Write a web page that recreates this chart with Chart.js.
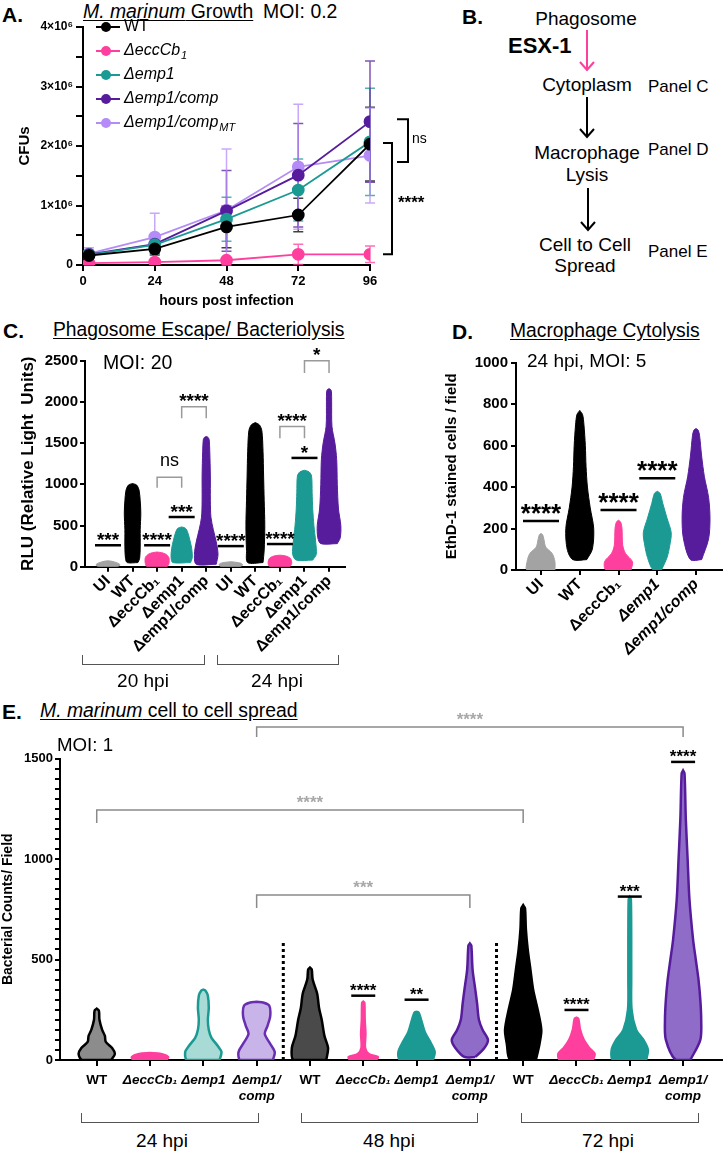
<!DOCTYPE html>
<html>
<head>
<meta charset="utf-8">
<script src="https://cdn.jsdelivr.net/npm/chart.js@4"></script>
<style>
  body { margin: 0; background: #fff; font-family: 'Liberation Sans', Arial, sans-serif; }
  #page { position: relative; width: 725px; height: 1153px; overflow: hidden; background: #fff; }
  .t { position: absolute; white-space: nowrap; line-height: 1; color: #000; }
  .c { transform: translateX(-50%); }
  .u { text-decoration: underline; text-underline-offset: 2px; }
  .big { font-weight: bold; font-size: 21px; }
  canvas { position: absolute; }
  .brk { position: absolute; border: 1.5px solid #555; border-top: none; height: 9px; }
</style>
</head>
<body>
<div id="page">
  <!-- panel titles -->
  <div class="t big" style="left:2px;top:4px;">A.</div>
  <div class="t u" style="left:83px;top:2px;font-size:19.4px;"><i>M. marinum</i> Growth</div>
  <div class="t" style="left:263px;top:2px;font-size:19.4px;">MOI: 0.2</div>
  <canvas id="chartA" width="450" height="312" style="left:0;top:0;"></canvas>

  <div class="t big" style="left:462px;top:6px;">B.</div>
  <div class="t c" style="left:586px;top:9px;font-size:19px;">Phagosome</div>
  <div class="t" style="left:508px;top:35px;font-size:22px;font-weight:bold;">ESX-1</div>
  <div class="t c" style="left:587px;top:75px;font-size:19px;">Cytoplasm</div>
  <div class="t" style="left:648px;top:78px;font-size:17px;">Panel C</div>
  <div class="t c" style="left:587px;top:143px;font-size:19px;">Macrophage</div>
  <div class="t c" style="left:587px;top:165px;font-size:19px;">Lysis</div>
  <div class="t" style="left:648px;top:141px;font-size:17px;">Panel D</div>
  <div class="t c" style="left:585px;top:235px;font-size:19px;">Cell to Cell</div>
  <div class="t c" style="left:585px;top:256px;font-size:19px;">Spread</div>
  <div class="t" style="left:648px;top:243px;font-size:17px;">Panel E</div>
  <svg style="position:absolute;left:0;top:0;" width="725" height="300">
    <g fill="none" stroke-width="2">
      <path d="M587 30 V70 M580 62 L587 70 L594 62" stroke="#ff3f9e"/>
      <path d="M587 97 V137 M580 129 L587 137 L594 129" stroke="#000"/>
      <path d="M588 188 V230 M581 222 L588 230 L595 222" stroke="#000"/>
    </g>
  </svg>

  <div class="t big" style="left:3px;top:320px;">C.</div>
  <div class="t u" style="left:53px;top:320px;font-size:19.3px;">Phagosome Escape/ Bacteriolysis</div>
  <canvas id="chartC" width="360" height="330" style="left:0;top:340px;"></canvas>
  <div class="t" style="left:103px;top:353px;font-size:19.5px;">MOI: 20</div>
  <div class="brk" style="left:82px;top:655px;width:121px;"></div>
  <div class="brk" style="left:217px;top:655px;width:120px;"></div>
  <div class="t c" style="left:143px;top:671px;font-size:19px;">20 hpi</div>
  <div class="t c" style="left:277px;top:671px;font-size:19px;">24 hpi</div>

  <div class="t big" style="left:452px;top:321px;">D.</div>
  <div class="t u" style="left:510px;top:321px;font-size:19.3px;">Macrophage Cytolysis</div>
  <canvas id="chartD" width="345" height="330" style="left:380px;top:340px;"></canvas>
  <div class="t" style="left:527px;top:351px;font-size:19px;">24 hpi, MOI: 5</div>

  <div class="t big" style="left:2px;top:701px;">E.</div>
  <div class="t u" style="left:40px;top:701px;font-size:19.4px;"><i>M. marinum</i> cell to cell spread</div>
  <canvas id="chartE" width="725" height="410" style="left:0;top:700px;"></canvas>
  <div class="t" style="left:57px;top:736px;font-size:18.7px;">MOI: 1</div>
  <div class="brk" style="left:81px;top:1113px;width:176px;"></div>
  <div class="brk" style="left:301px;top:1113px;width:175px;"></div>
  <div class="brk" style="left:521px;top:1113px;width:176px;"></div>
  <div class="t c" style="left:162px;top:1131px;font-size:19px;">24 hpi</div>
  <div class="t c" style="left:389px;top:1131px;font-size:19px;">48 hpi</div>
  <div class="t c" style="left:608px;top:1131px;font-size:19px;">72 hpi</div>
</div>

<script>
// ---------- Panel A: growth curves (CFUs) ----------
const growthHours = [2, 24, 48, 72, 96];
const growthNames = ['WT', 'ΔeccCb', 'Δemp1', 'Δemp1/comp', 'Δemp1/comp'];
const growthSubs = ['', '1', '', '', 'MT'];
const growthWT = [160000, 270000, 640000, 840000, 2030000];
const growthEcc = [30000, 50000, 80000, 180000, 180000];
const growthEmp1 = [170000, 340000, 770000, 1260000, 2070000];
const growthComp = [180000, 350000, 910000, 1510000, 2410000];
const growthCompMT = [190000, 470000, 920000, 1650000, 1840000];
const sdWT = [50000, 100000, 350000, 280000, 620000];
const sdEcc = [30000, 30000, 40000, 170000, 140000];
const sdEmp1 = [50000, 150000, 370000, 520000, 900000];
const sdComp = [50000, 150000, 680000, 870000, 1020000];
const sdCompMT = [100000, 400000, 1030000, 1050000, 800000];
const growthStats = [
  { top: 2450000, bottom: 1730000, text: 'ns' },
  { top: 2050000, bottom: 180000, text: '****' }
];

// ---------- Panel C: phagosome escape (RLU) ----------
const escapePos = [1, 2, 3, 4, 5, 6, 7, 8, 9, 10];
const escapeLabels = ['UI', 'WT', 'ΔeccCb₁', 'Δemp1', 'Δemp1/comp', 'UI', 'WT', 'ΔeccCb₁', 'Δemp1', 'Δemp1/comp'];
const escapeStrain = ['ui', 'wt', 'ecc', 'emp1', 'comp', 'ui', 'wt', 'ecc', 'emp1', 'comp'];
// each profile: [value, relative density]
const escapeProfiles = [
  [[0, 0.75], [15, 1], [35, 0.95], [55, 0.6], [68, 0.25], [72, 0]],
  [[50, 0.45], [100, 0.6], [250, 0.65], [450, 0.65], [650, 0.7], [800, 0.65], [930, 0.55], [990, 0.35], [1010, 0]],
  [[0, 0.85], [40, 1], [110, 1], [150, 0.75], [170, 0.4], [178, 0]],
  [[50, 0.75], [110, 0.9], [220, 0.85], [320, 0.7], [400, 0.55], [455, 0.4], [475, 0.2], [482, 0]],
  [[30, 0.85], [150, 1], [300, 0.85], [450, 0.6], [600, 0.4], [800, 0.35], [1100, 0.35], [1400, 0.3], [1540, 0.25], [1570, 0.15], [1580, 0]],
  [[0, 0.8], [20, 1], [40, 0.9], [55, 0.4], [60, 0]],
  [[50, 0.65], [200, 0.75], [500, 0.8], [800, 0.75], [1100, 0.7], [1400, 0.65], [1650, 0.55], [1720, 0.35], [1750, 0]],
  [[0, 0.85], [40, 1], [100, 0.9], [130, 0.5], [140, 0]],
  [[80, 0.7], [150, 1], [300, 0.95], [500, 0.8], [700, 0.7], [900, 0.65], [1100, 0.6], [1150, 0.4], [1170, 0]],
  [[280, 0.7], [350, 0.95], [500, 1], [700, 0.8], [1000, 0.7], [1300, 0.65], [1500, 0.5], [1700, 0.25], [2000, 0.22], [2130, 0.2], [2155, 0.1], [2160, 0]]
];
const escapeBars = [
  { at: 1, value: 260, text: '***' },
  { at: 3, value: 260, text: '****' },
  { at: 4, value: 603, text: '***' },
  { at: 6, value: 250, text: '****' },
  { at: 8, value: 275, text: '****' },
  { at: 9, value: 1320, text: '*' }
];
const escapeBrackets = [
  { from: 3, to: 4, value: 1087, leg: 130, text: 'ns' },
  { from: 4, to: 5, value: 1942, leg: 140, text: '****' },
  { from: 8, to: 9, value: 1700, leg: 140, text: '****' },
  { from: 9, to: 10, value: 2500, leg: 150, text: '*' }
];

// ---------- Panel D: macrophage cytolysis (EthD-1 cells / field) ----------
const lysisPos = [1, 2, 3, 4, 5];
const lysisLabels = ['UI', 'WT', 'ΔeccCb₁', 'Δemp1', 'Δemp1/comp'];
const lysisStrain = ['ui', 'wt', 'ecc', 'emp1', 'comp'];
const lysisProfiles = [
  [[0, 1], [40, 1], [80, 0.8], [110, 0.35], [150, 0.2], [170, 0.12], [176, 0]],
  [[50, 0.5], [100, 0.9], [200, 1], [300, 0.75], [400, 0.55], [500, 0.45], [600, 0.4], [700, 0.3], [750, 0.2], [770, 0]],
  [[0, 0.9], [40, 1], [80, 0.5], [120, 0.3], [200, 0.25], [232, 0.15], [240, 0]],
  [[0, 0.3], [60, 0.7], [120, 0.9], [180, 1], [250, 0.7], [320, 0.4], [370, 0.2], [380, 0]],
  [[50, 0.4], [150, 0.9], [250, 1], [350, 0.9], [450, 0.6], [550, 0.4], [650, 0.25], [675, 0.15], [682, 0]]
];
const lysisBars = [
  { at: 1, value: 236, text: '****' },
  { at: 3, value: 289, text: '****' },
  { at: 4, value: 443, text: '****' }
];

// ---------- Panel E: cell to cell spread (bacterial counts / field) ----------
const spreadPos = [1, 2, 3, 4, 5, 6, 7, 8, 9, 10, 11, 12];
const spreadLabels = ['WT', 'ΔeccCb₁', 'Δemp1', ['Δemp1/', 'comp'], 'WT', 'ΔeccCb₁', 'Δemp1', ['Δemp1/', 'comp'], 'WT', 'ΔeccCb₁', 'Δemp1', ['Δemp1/', 'comp']];
const spreadStrain = ['wt24', 'ecc', 'emp1_24', 'comp24', 'wt48', 'ecc', 'emp1', 'comp48', 'wt', 'ecc', 'emp1', 'comp48'];
const spreadProfiles = [
  [[0, 0.8], [30, 1], [60, 0.85], [90, 0.5], [120, 0.45], [150, 0.3], [200, 0.15], [245, 0.12], [255, 0]],
  [[0, 0.9], [15, 1], [30, 0.6], [35, 0]],
  [[0, 0.9], [40, 1], [70, 0.8], [110, 0.45], [150, 0.3], [200, 0.25], [260, 0.3], [320, 0.25], [345, 0.12], [350, 0]],
  [[0, 0.9], [40, 1], [80, 0.75], [130, 0.45], [170, 0.6], [220, 0.75], [270, 0.7], [285, 0.4], [290, 0]],
  [[0, 0.9], [60, 1], [120, 0.8], [200, 0.65], [260, 0.5], [330, 0.4], [400, 0.15], [450, 0.1], [460, 0]],
  [[0, 0.7], [15, 0.8], [30, 0.3], [60, 0.1], [130, 0.12], [200, 0.08], [285, 0.06], [290, 0]],
  [[0, 0.9], [40, 1], [90, 0.75], [140, 0.45], [200, 0.25], [235, 0.12], [240, 0]],
  [[15, 0.3], [60, 0.8], [100, 1], [150, 0.7], [200, 0.5], [280, 0.4], [350, 0.3], [450, 0.15], [570, 0.08], [580, 0]],
  [[0, 0.7], [80, 0.9], [150, 1], [250, 0.8], [350, 0.55], [450, 0.4], [550, 0.25], [650, 0.15], [755, 0.1], [770, 0]],
  [[0, 0.9], [30, 1], [60, 0.7], [100, 0.4], [150, 0.2], [205, 0.1], [210, 0]],
  [[0, 0.9], [50, 1], [100, 0.75], [150, 0.35], [250, 0.1], [400, 0.08], [600, 0.08], [800, 0.06], [810, 0]],
  [[0, 0.4], [100, 0.95], [200, 1], [300, 0.95], [400, 0.85], [500, 0.7], [600, 0.55], [800, 0.35], [1000, 0.25], [1200, 0.15], [1425, 0.08], [1440, 0]]
];
const spreadDividers = [4.5, 8.5];
const spreadDividerTop = 590;
const spreadBars = [
  { at: 6, value: 320, text: '****' },
  { at: 7, value: 300, text: '**' },
  { at: 10, value: 249, text: '****' },
  { at: 11, value: 813, text: '***' },
  { at: 12, value: 1483, text: '****' }
];
const spreadBrackets = [
  { from: 4, to: 12, value: 1657, leg: 50, text: '****' },
  { from: 1, to: 9, value: 1244, leg: 65, text: '****' },
  { from: 4, to: 8, value: 821, leg: 65, text: '***' }
];

// ---------- styles ----------
const FONT = "'Liberation Sans', Arial, sans-serif";
Chart.defaults.font.family = FONT;
Chart.defaults.color = '#000';

const palette = {
  ui: { fill: '#a3a3a3', line: '#a3a3a3' },
  wt: { fill: '#000000', line: '#000000' },
  ecc: { fill: '#ff3f9e', line: '#ff3f9e' },
  emp1: { fill: '#1b9a94', line: '#1b9a94' },
  comp: { fill: '#561c9c', line: '#561c9c' },
  wt24: { fill: '#8c8c8c', line: '#000000' },
  wt48: { fill: '#4a4a4a', line: '#000000' },
  emp1_24: { fill: '#a8dad6', line: '#1b9a94' },
  comp24: { fill: '#c9b4ea', line: '#6a2fb0' },
  comp48: { fill: '#8e6cc8', line: '#561c9c' }
};
const growthColors = ['#000000', '#ff3f9e', '#1b9a94', '#561c9c', '#b58cf7'];

function violin(pos, profile, half, style, lineWidth) {
  const right = profile.map(p => ({ x: pos + p[1] * half, y: p[0] }));
  const left = profile.slice().reverse().map(p => ({ x: pos - p[1] * half, y: p[0] }));
  const pts = right.concat(left);
  pts.push(pts[0]);
  return {
    data: pts, showLine: true, fill: 'shape', tension: 0.3,
    backgroundColor: style.fill, borderColor: style.line, borderWidth: lineWidth,
    pointRadius: 0, pointHoverRadius: 0
  };
}

function axisStyle(extra, tickLength) {
  return Object.assign({
    grid: { drawOnChartArea: false, color: '#000', lineWidth: 2, tickLength: tickLength || 5 },
    border: { color: '#000', width: 2 }
  }, extra);
}

// significance bars, brackets and divider lines, placed through the scales
const sigPlugin = {
  id: 'sig',
  afterDatasetsDraw(chart, args, opts) {
    const ctx = chart.ctx, xs = chart.scales.x, ys = chart.scales.y;
    if (!opts.bars && !opts.brackets && !opts.dividers) return;
    ctx.save();
    (opts.dividers || []).forEach(d => {
      const x = xs.getPixelForValue(d);
      ctx.strokeStyle = '#000'; ctx.lineWidth = 3; ctx.setLineDash([3, 3]);
      ctx.beginPath(); ctx.moveTo(x, ys.getPixelForValue(0)); ctx.lineTo(x, ys.getPixelForValue(opts.dividerTop)); ctx.stroke();
    });
    ctx.setLineDash([]);
    ctx.textAlign = 'center'; ctx.textBaseline = 'alphabetic';
    (opts.bars || []).forEach(b => {
      const cx = xs.getPixelForValue(b.at), y = ys.getPixelForValue(b.value);
      ctx.strokeStyle = '#000'; ctx.lineWidth = 2.5;
      ctx.beginPath(); ctx.moveTo(cx - opts.barHalf, y); ctx.lineTo(cx + opts.barHalf, y); ctx.stroke();
      ctx.fillStyle = '#000'; ctx.font = opts.starFont;
      ctx.fillText(b.text, cx, y + opts.starShift);
    });
    (opts.brackets || []).forEach(b => {
      const x1 = xs.getPixelForValue(b.from), x2 = xs.getPixelForValue(b.to);
      const yTop = ys.getPixelForValue(b.value), yLeg = ys.getPixelForValue(b.value - b.leg);
      ctx.strokeStyle = opts.bracketColor; ctx.lineWidth = 1.5;
      ctx.beginPath(); ctx.moveTo(x1, yLeg); ctx.lineTo(x1, yTop); ctx.lineTo(x2, yTop); ctx.lineTo(x2, yLeg); ctx.stroke();
      ctx.fillStyle = opts.bracketTextColor;
      if (b.text.indexOf('*') >= 0) {
        ctx.font = opts.bracketStarFont;
        ctx.fillText(b.text, (x1 + x2) / 2, yTop - opts.bracketStarLift);
      } else {
        ctx.font = opts.bracketTextFont;
        ctx.fillText(b.text, (x1 + x2) / 2, yTop - 11);
      }
    });
    ctx.restore();
  }
};
Chart.register(sigPlugin);

// ---------- Panel A ----------
const growthValues = [growthWT, growthEcc, growthEmp1, growthComp, growthCompMT];
const growthSd = [sdWT, sdEcc, sdEmp1, sdComp, sdCompMT];

const growthExtras = {
  id: 'growthExtras',
  beforeDatasetsDraw(chart) {
    const ctx = chart.ctx, xs = chart.scales.x, ys = chart.scales.y;
    ctx.save();
    ctx.globalAlpha = 0.75;
    ctx.lineWidth = 1.5;
    growthValues.forEach((vals, i) => {
      ctx.strokeStyle = growthColors[i];
      vals.forEach((v, j) => {
        const x = xs.getPixelForValue(growthHours[j]);
        const y1 = ys.getPixelForValue(v + growthSd[i][j]);
        const y0 = ys.getPixelForValue(Math.max(0, v - growthSd[i][j]));
        ctx.beginPath();
        ctx.moveTo(x, y0); ctx.lineTo(x, y1);
        ctx.moveTo(x - 5, y1); ctx.lineTo(x + 5, y1);
        ctx.moveTo(x - 5, y0); ctx.lineTo(x + 5, y0);
        ctx.stroke();
      });
    });
    ctx.restore();
  },
  afterDraw(chart) {
    const ctx = chart.ctx, area = chart.chartArea, ys = chart.scales.y;
    ctx.save();
    // legend
    growthNames.forEach((name, i) => {
      const y = area.top + i * 24;
      ctx.strokeStyle = growthColors[i]; ctx.fillStyle = growthColors[i]; ctx.lineWidth = 2;
      ctx.beginPath(); ctx.moveTo(area.left + 13, y); ctx.lineTo(area.left + 37, y); ctx.stroke();
      ctx.beginPath(); ctx.arc(area.left + 23, y, 5, 0, Math.PI * 2); ctx.fill();
      ctx.fillStyle = '#000';
      ctx.textBaseline = 'middle'; ctx.textAlign = 'left';
      ctx.font = (i === 0 ? '' : 'italic ') + '16px ' + FONT;
      ctx.fillText(name, area.left + 41, y);
      if (growthSubs[i]) {
        const w = ctx.measureText(name).width;
        ctx.font = 'italic 11px ' + FONT;
        ctx.fillText(growthSubs[i], area.left + 41 + w + 1, y + 5);
      }
    });
    // significance brackets to the right of the last time point
    ctx.strokeStyle = '#000'; ctx.fillStyle = '#000'; ctx.lineWidth = 2;
    const offsets = [{ x: 38, stub: 11 }, { x: 22, stub: 9 }];
    growthStats.forEach((s, i) => {
      const xv = area.right + offsets[i].x;
      const yt = ys.getPixelForValue(s.top), yb = ys.getPixelForValue(s.bottom);
      ctx.beginPath();
      ctx.moveTo(xv - offsets[i].stub, yt); ctx.lineTo(xv, yt); ctx.lineTo(xv, yb); ctx.lineTo(xv - offsets[i].stub, yb);
      ctx.stroke();
      ctx.textAlign = 'left';
      if (s.text === 'ns') {
        ctx.font = '14px ' + FONT; ctx.textBaseline = 'middle';
        ctx.fillText(s.text, xv + 4, (yt + yb) / 2 - 2);
      } else {
        ctx.font = 'bold 17px ' + FONT; ctx.textBaseline = 'alphabetic';
        ctx.fillText(s.text, xv + 6, (yt + yb) / 2 + 9);
      }
    });
    ctx.restore();
  }
};

new Chart(document.getElementById('chartA'), {
  type: 'line',
  data: {
    datasets: growthValues.map((vals, i) => ({
      label: growthNames[i] + growthSubs[i],
      data: vals.map((v, j) => ({ x: growthHours[j], y: v })),
      borderColor: growthColors[i], backgroundColor: growthColors[i],
      borderWidth: 1.8, pointRadius: 5.5, pointHoverRadius: 5.5, tension: 0
    }))
  },
  options: {
    responsive: false, animation: false,
    layout: { padding: { top: 27, right: 80, left: 0 } },
    plugins: { legend: { display: false }, tooltip: { enabled: false } },
    scales: {
      x: axisStyle({
        type: 'linear', min: 0, max: 96,
        afterBuildTicks: a => { a.ticks = [0, 24, 48, 72, 96].map(v => ({ value: v })); },
        afterFit: a => { a.height = 47; },
        ticks: { font: { weight: 'bold', size: 13 }, padding: 3, maxRotation: 0, autoSkip: false },
        title: { display: true, text: 'hours post infection', font: { weight: 'bold', size: 14 }, padding: { bottom: 2 } }
      }, 6),
      y: axisStyle({
        min: 0, max: 4000000,
        afterFit: a => { a.width = 83; },
        ticks: {
          stepSize: 500000, autoSkip: false, padding: 3,
          font: { weight: 'bold', size: 12 },
          callback: v => v === 0 ? '0' : (v % 1000000 === 0 ? (v / 1000000) + '×10⁶' : '')
        },
        title: { display: true, text: 'CFUs', font: { weight: 'bold', size: 15 }, padding: { top: 16 } }
      }, 7)
    }
  },
  plugins: [growthExtras]
});

// ---------- Panel C ----------
new Chart(document.getElementById('chartC'), {
  type: 'scatter',
  data: { datasets: escapePos.map((p, i) => violin(p, escapeProfiles[i], 0.48, palette[escapeStrain[i]], 1)) },
  options: {
    responsive: false, animation: false,
    layout: { padding: { top: 20.7, right: 15 } },
    plugins: {
      legend: { display: false }, tooltip: { enabled: false },
      sig: {
        bars: escapeBars, brackets: escapeBrackets, barHalf: 13, starShift: 1,
        starFont: 'bold 19px ' + FONT, bracketColor: '#9a9a9a', bracketTextColor: '#000',
        bracketStarFont: 'bold 19px ' + FONT, bracketStarLift: 0, bracketTextFont: '18px ' + FONT
      }
    },
    scales: {
      x: axisStyle({
        type: 'linear', min: 0.064, max: 10.65,
        afterBuildTicks: a => { a.ticks = escapePos.map(v => ({ value: v })); },
        afterFit: a => { a.height = 103.3; },
        ticks: { font: { weight: 'bold', size: 16 }, padding: 0, minRotation: 45, maxRotation: 45, autoSkip: false,
          callback: v => escapeLabels[v - 1] }
      }),
      y: axisStyle({
        min: 0, max: 2500,
        afterFit: a => { a.width = 85; },
        ticks: { stepSize: 500, autoSkip: false, padding: 2, font: { weight: 'bold', size: 15 }, callback: v => String(v) },
        title: { display: true, text: 'RLU (Relative Light  Units)', font: { weight: 'bold', size: 17 }, padding: { top: 18 } }
      })
    }
  }
});

// ---------- Panel D ----------
new Chart(document.getElementById('chartD'), {
  type: 'scatter',
  data: { datasets: lysisPos.map((p, i) => violin(p, lysisProfiles[i], 0.36, palette[lysisStrain[i]], 1)) },
  options: {
    responsive: false, animation: false,
    layout: { padding: { top: 22.7, right: 3 } },
    plugins: {
      legend: { display: false }, tooltip: { enabled: false },
      sig: { bars: lysisBars, barHalf: 18, starShift: 1, starFont: 'bold 26px ' + FONT }
    },
    scales: {
      x: axisStyle({
        type: 'linear', min: 0.355, max: 5.67,
        afterBuildTicks: a => { a.ticks = lysisPos.map(v => ({ value: v })); },
        afterFit: a => { a.height = 100; },
        ticks: {
          padding: 0, minRotation: 45, maxRotation: 45, autoSkip: false,
          font: c => ({ weight: 'bold', size: 16, style: (c.tick && c.tick.value >= 4) ? 'italic' : 'normal' }),
          callback: v => lysisLabels[v - 1]
        }
      }),
      y: axisStyle({
        min: 0, max: 1000,
        afterFit: a => { a.width = 136; },
        ticks: { stepSize: 200, autoSkip: false, padding: 3, font: { weight: 'bold', size: 15 }, callback: v => String(v) },
        title: { display: true, text: 'EthD-1 stained cells / field', font: { weight: 'bold', size: 15 }, padding: { top: 63 } }
      })
    }
  }
});

// ---------- Panel E ----------
new Chart(document.getElementById('chartE'), {
  type: 'scatter',
  data: { datasets: spreadPos.map((p, i) => violin(p, spreadProfiles[i], 0.34, palette[spreadStrain[i]], 2.5)) },
  options: {
    responsive: false, animation: false,
    layout: { padding: { top: 58.5, right: 3 } },
    plugins: {
      legend: { display: false }, tooltip: { enabled: false },
      sig: {
        bars: spreadBars, brackets: spreadBrackets, dividers: spreadDividers, dividerTop: spreadDividerTop,
        barHalf: 12, starShift: 0, starFont: 'bold 17px ' + FONT,
        bracketColor: '#8a8a8a', bracketTextColor: '#a8a8a8', bracketStarFont: 'bold 17px ' + FONT, bracketStarLift: 2,
        bracketTextFont: '17px ' + FONT
      }
    },
    scales: {
      x: axisStyle({
        type: 'linear', min: 0.311, max: 12.73,
        afterBuildTicks: a => { a.ticks = spreadPos.map(v => ({ value: v })); },
        afterFit: a => { a.height = 50; },
        ticks: {
          padding: 6, maxRotation: 0, autoSkip: false,
          font: c => ({ weight: 'bold', size: 13.5, style: (c.tick && c.tick.label === 'WT') ? 'normal' : 'italic' }),
          callback: v => spreadLabels[v - 1]
        }
      }, 6),
      y: axisStyle({
        min: 0, max: 1500,
        afterFit: a => { a.width = 60; },
        ticks: { stepSize: 50, autoSkip: false, padding: 2, font: { weight: 'bold', size: 13 },
          callback: v => (v % 500 === 0 ? String(v) : '') },
        title: { display: true, text: 'Bacterial Counts/ Field', font: { weight: 'bold', size: 14 }, padding: { top: 0 } }
      })
    }
  }
});
</script>
</body>
</html>
